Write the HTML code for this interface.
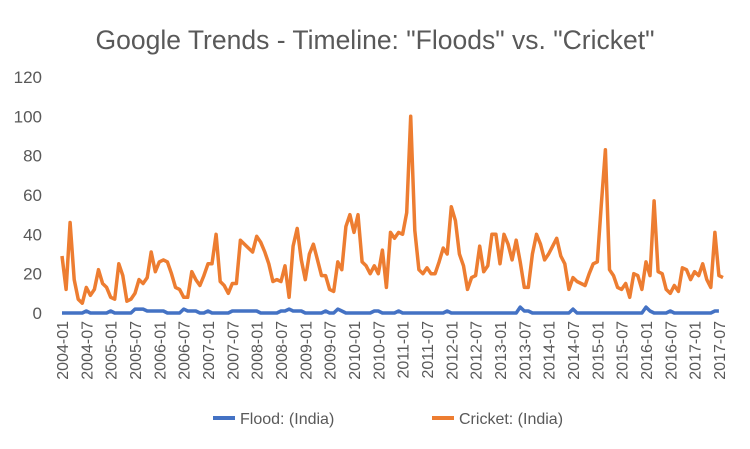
<!DOCTYPE html>
<html><head><meta charset="utf-8"><style>
body{margin:0;background:#fff;}
svg{display:block;font-family:"Liberation Sans",sans-serif;}
</style></head><body>
<svg id="chart" width="750" height="449">
<rect width="750" height="449" fill="#fff"/>
<text x="375" y="49" text-anchor="middle" font-size="26.5" fill="#595959">Google Trends - Timeline: "Floods" vs. "Cricket"</text>
<g id="yaxis"></g><g id="xaxis"></g><g id="series"></g>
<g>
<line x1="213" y1="418" x2="235" y2="418" stroke="#4472C4" stroke-width="4"/>
<text x="240" y="424" font-size="16" fill="#595959">Flood: (India)</text>
<line x1="432" y1="418" x2="454" y2="418" stroke="#ED7D31" stroke-width="4"/>
<text x="459" y="424" font-size="16" fill="#595959">Cricket: (India)</text>
</g>
</svg>
<script>
const yTicks=[0,20,40,60,80,100,120];
const cricket=[29,12,46,17,7,5,13,9,12,22,15,13,8,7,25,19,6,7,10,17,15,18,31,21,26,27,26,20,13,12,8,8,21,17,14,19,25,25,40,16,14,10,15,15,37,35,33,31,39,36,31,25,16,17,16,24,8,34,43,27,17,30,35,27,19,19,12,11,26,22,44,50,41,50,26,24,20,24,20,32,13,41,38,41,40,51,100,42,22,20,23,20,20,26,33,30,54,47,30,24,12,18,19,34,21,24,40,40,25,40,35,27,37,26,13,13,30,40,35,27,30,34,38,29,25,12,18,16,15,14,20,25,26,55,83,22,19,13,12,15,8,20,19,12,26,19,57,21,20,12,10,14,11,23,22,17,21,19,25,17,13,41,19,18];
const flood=[0,0,0,0,0,0,1,0,0,0,0,0,1,0,0,0,0,0,2,2,2,1,1,1,1,1,0,0,0,0,2,1,1,1,0,0,1,0,0,0,0,0,1,1,1,1,1,1,1,0,0,0,0,0,1,1,2,1,1,1,0,0,0,0,0,1,0,0,2,1,0,0,0,0,0,0,0,1,1,0,0,0,0,1,0,0,0,0,0,0,0,0,0,0,0,1,0,0,0,0,0,0,0,0,0,0,0,0,0,0,0,0,0,3,1,1,0,0,0,0,0,0,0,0,0,0,2,0,0,0,0,0,0,0,0,0,0,0,0,0,0,0,0,0,3,1,0,0,0,0,1,0,0,0,0,0,0,0,0,0,0,1,1];
const startYear=2004;
const X0=62,X1=723,Y0=313,Y1=77;
const n=cricket.length;
function xs(i){return X0+(X1-X0)*i/(n-1);}
function ys(v){return Y0-(Y0-Y1)*v/120;}
const NS="http://www.w3.org/2000/svg";
const ya=document.getElementById('yaxis');
yTicks.forEach(t=>{const e=document.createElementNS(NS,'text');e.setAttribute('x',42);e.setAttribute('y',ys(t)+6);e.setAttribute('text-anchor','end');e.setAttribute('font-size','17');e.setAttribute('fill','#595959');e.textContent=t;


ya.appendChild(e);});
const xa=document.getElementById('xaxis');
for(let i=0;i<n;i+=6){const y=startYear+Math.floor(i/12),m=i%12+1;const lbl=y+'-'+String(m).padStart(2,'0');
const e=document.createElementNS(NS,'text');const x=xs(i)+6;e.setAttribute('x',x);e.setAttribute('y',321);e.setAttribute('transform','rotate(-90 '+x+' 321)');e.setAttribute('text-anchor','end');e.setAttribute('font-size','16');e.setAttribute('fill','#595959');e.textContent=lbl;


xa.appendChild(e);}
const sg=document.getElementById('series');
function line(arr,col,name){const p=document.createElementNS(NS,'polyline');p.setAttribute('points',arr.map((v,i)=>xs(i).toFixed(1)+','+ys(v).toFixed(1)).join(' '));p.setAttribute('fill','none');p.setAttribute('stroke',col);p.setAttribute('stroke-width','3.5');p.setAttribute('stroke-linejoin','round');


sg.appendChild(p);}
line(flood,'#4472C4','flood-line');
line(cricket,'#ED7D31','cricket-line');
</script>
</body></html>
